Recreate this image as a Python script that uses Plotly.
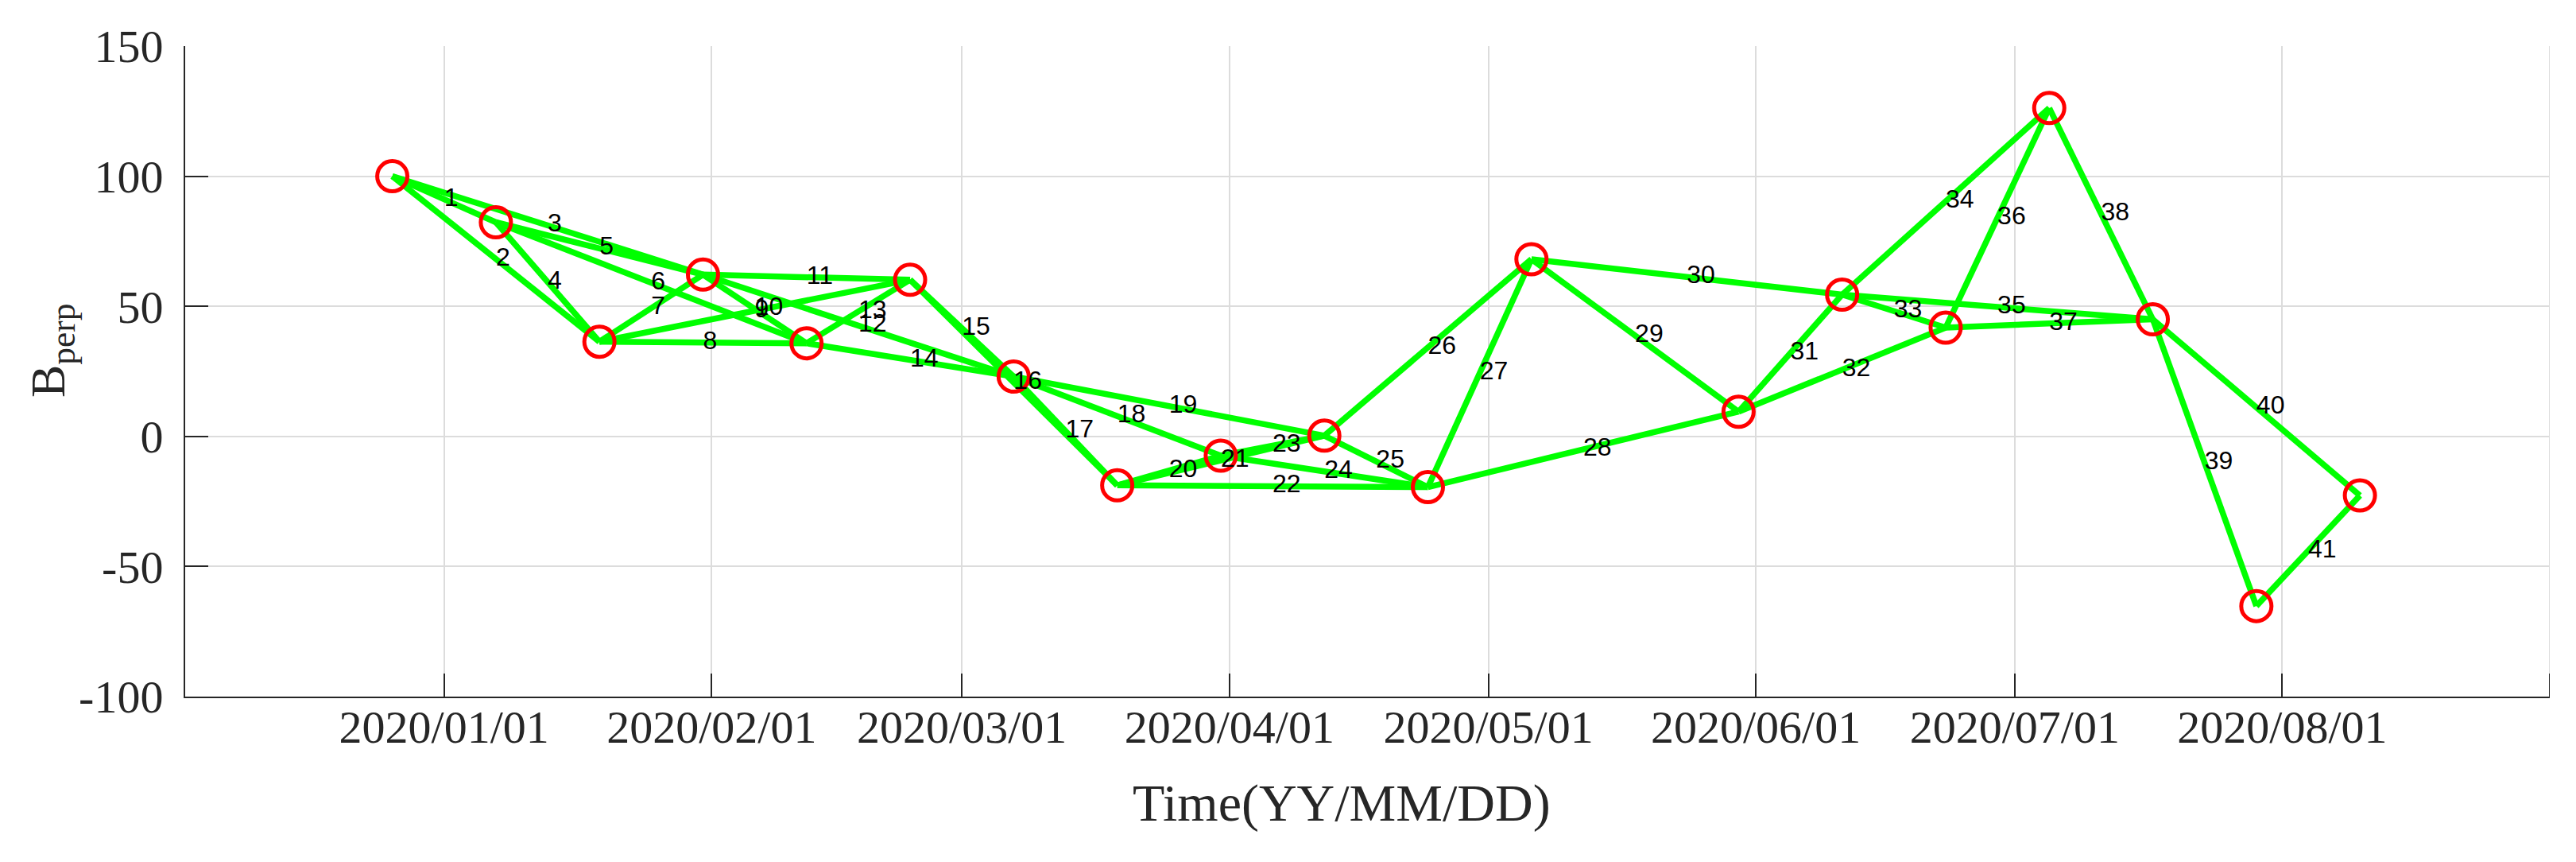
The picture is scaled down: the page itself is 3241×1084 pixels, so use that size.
import pandas as pd
import plotly.graph_objects as go

# acquisition dates and perpendicular baselines (m)
dates = ['2019-12-26', '2020-01-07', '2020-01-19', '2020-01-31', '2020-02-12',
         '2020-02-24', '2020-03-07', '2020-03-19', '2020-03-31', '2020-04-12',
         '2020-04-24', '2020-05-06', '2020-05-30', '2020-06-11', '2020-06-23',
         '2020-07-05', '2020-07-17', '2020-07-29', '2020-08-10']
bperp = [100.0, 82.3, 36.4, 62.2, 35.8,
         60.2, 23.0, -18.8, -7.4, 0.3,
         -19.5, 68.1, 9.5, 54.5, 41.8,
         126.2, 45.0, -65.2, -22.7]

# interferometric pairs (index into dates), numbered 1..41 in this order
pair_start = [0, 0, 0, 1, 1, 1, 2, 2, 2, 3, 3, 3, 4, 4, 5, 5, 6, 6, 6, 7, 7,
              7, 8, 8, 9, 9, 10, 10, 11, 11, 12, 12, 13, 13, 13, 14, 14, 15, 16, 16, 17]
pair_end = [1, 2, 3, 2, 3, 4, 3, 4, 5, 4, 5, 6, 5, 6, 6, 7, 7, 8, 9, 8, 9,
            10, 9, 10, 10, 11, 11, 12, 12, 13, 13, 14, 14, 15, 16, 15, 16, 16, 17, 18, 18]

tick_dates = ['2020-01-01', '2020-02-01', '2020-03-01', '2020-04-01', '2020-05-01',
              '2020-06-01', '2020-07-01', '2020-08-01']
tick_text = ['2020/01/01', '2020/02/01', '2020/03/01', '2020/04/01', '2020/05/01',
             '2020/06/01', '2020/07/01', '2020/08/01']
y_ticks = [-100, -50, 0, 50, 100, 150]
y_text = ['-100', '-50', '0', '50', '100', '150']

x_start, x_end = '2019-12-02', '2020-09-01'

t = pd.to_datetime(dates)

# edges as one polyline broken by gaps
ex, ey = [], []
mx, my, lab = [], [], []
for k, (i, j) in enumerate(zip(pair_start, pair_end)):
    ex += [t[i], t[j], None]
    ey += [bperp[i], bperp[j], None]
    mx.append(t[i] + (t[j] - t[i]) / 2)
    my.append((bperp[i] + bperp[j]) / 2)
    lab.append(str(k + 1))

fig = go.Figure()
fig.add_trace(go.Scatter(x=ex, y=ey, mode='lines',
                         line=dict(color='#00ff00', width=7.5), hoverinfo='skip'))
fig.add_trace(go.Scatter(x=t, y=bperp, mode='markers',
                         marker=dict(symbol='circle-open', size=38, color='#ff0000',
                                     line=dict(width=5, color='#ff0000'))))
fig.add_trace(go.Scatter(x=mx, y=my, mode='text', text=lab, textposition='middle right',
                         textfont=dict(family='Liberation Sans', size=32, color='black')))

# plot area in pixels
L, R, T, B = 225, 3200, 50, 868
W, H = 3241, 1084
TICKLEN = 29


def px(x):
    return (x - L) / (R - L)


def py(y):
    return (B - y) / (B - T)


axis_common = dict(
    showline=True, linecolor='#262626', linewidth=2,
    ticks='inside', ticklen=TICKLEN, tickwidth=2, tickcolor='#262626',
    showgrid=True, gridcolor='#dcdcdc', gridwidth=2,
    zeroline=False, automargin=False,
    tickfont=dict(family='Liberation Serif', size=58, color='#262626'),
)

fig.update_layout(
    width=W, height=H,
    margin=dict(l=L, r=W - R, t=T, b=H - B),
    paper_bgcolor='white', plot_bgcolor='white',
    showlegend=False,
    xaxis=dict(type='date', range=[x_start, x_end],
               tickmode='array', tickvals=tick_dates, ticktext=tick_text,
               ticklabelstandoff=-14, **axis_common),
    yaxis=dict(range=[y_ticks[0], y_ticks[-1]], tickmode='array',
               tickvals=y_ticks, ticktext=y_text,
               ticklabelstandoff=14, **axis_common),
    shapes=[
        # grid line and inner tick at the right edge of the time axis
        dict(type='line', xref='x', yref='y domain', x0=x_end, x1=x_end, y0=0, y1=1,
             line=dict(color='#dcdcdc', width=2), layer='below'),
        dict(type='line', xref='x', yref='y domain', x0=x_end, x1=x_end,
             y0=0, y1=TICKLEN / (B - T), line=dict(color='#262626', width=2)),
    ],
    annotations=[
        dict(text='Time(YY/MM/DD)', xref='paper', yref='paper',
             x=px(1680), y=py(1002), xanchor='center', yanchor='middle',
             showarrow=False,
             font=dict(family='Liberation Serif', size=66, color='#262626')),
        dict(text='B<sub>perp</sub>', xref='paper', yref='paper',
             x=px(56), y=py(433), xanchor='center', yanchor='middle',
             textangle=-90, showarrow=False,
             font=dict(family='Liberation Serif', size=62, color='#262626')),
    ],
)

fig.write_html("out.html")
